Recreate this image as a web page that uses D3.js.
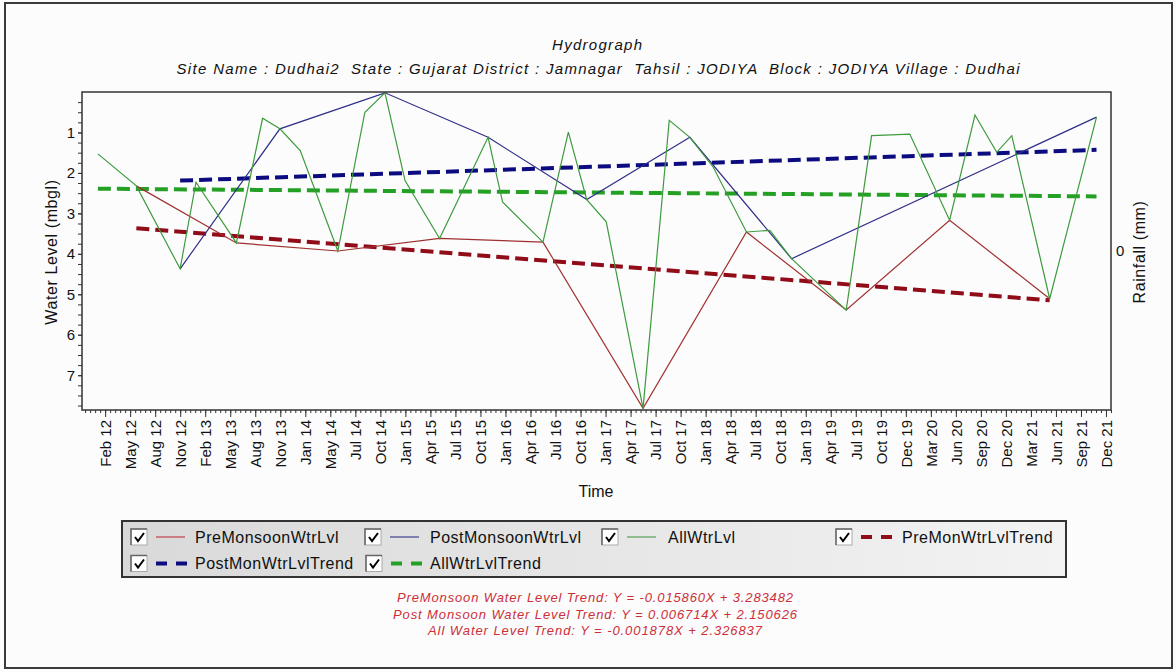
<!DOCTYPE html>
<html>
<head>
<meta charset="utf-8">
<script src="https://cdn.jsdelivr.net/npm/d3@7"></script>
<style>
  body { margin: 0; background: #fff; }
  svg { display: block; font-family: "Liberation Sans", Arial, sans-serif; }
  .pre { white-space: pre; }
</style>
</head>
<body>
<div id="chart"></div>
<script>
// ---- data ----
var tickLabels = ["Feb 12","May 12","Aug 12","Nov 12","Feb 13","May 13","Aug 13","Nov 13","Jan 14","May 14",
  "Jul 14","Oct 14","Jan 15","Apr 15","Jul 15","Oct 15","Jan 16","Apr 16","Jul 16","Oct 16",
  "Jan 17","Apr 17","Jul 17","Oct 17","Jan 18","Apr 18","Jul 18","Oct 18","Jan 19","Apr 19",
  "Jul 19","Oct 19","Dec 19","Mar 20","Jun 20","Sep 20","Dec 20","Mar 21","Jun 21","Sep 21","Dec 21"];

var allDates = ["2012-01-06","2012-05-23","2012-10-27","2012-12-23","2013-05-17","2013-08-19","2013-10-20",
  "2014-01-01","2014-05-16","2014-08-21","2014-11-01","2015-01-12","2015-05-16","2015-11-06","2015-12-28",
  "2016-05-21","2016-08-20","2016-10-25","2017-01-03","2017-05-15","2017-08-17","2017-10-30","2018-01-22",
  "2018-05-21","2018-08-13","2018-10-30","2019-05-14","2019-08-13","2019-10-23","2019-12-28","2020-05-19",
  "2020-08-18","2020-11-04","2020-12-28","2021-05-13","2021-10-28"];
var allLevels = [1.53,2.32,4.37,2.23,3.73,0.65,0.91,1.45,3.93,0.50,0.02,2.19,3.62,1.12,2.72,3.71,0.99,2.66,
  3.21,7.82,0.70,1.12,1.86,3.46,3.42,4.12,5.39,1.08,1.06,1.04,3.17,0.57,1.49,1.08,5.11,0.62];

var preDates = ["2012-05-23","2013-05-17","2014-05-16","2015-05-16","2016-05-21","2017-05-15","2018-05-21",
  "2019-05-14","2020-05-19","2021-05-13"];
var preLevels = [2.32,3.73,3.93,3.62,3.71,7.82,3.46,5.39,3.17,5.11];

var postDates = ["2012-10-27","2013-10-20","2014-11-01","2015-11-06","2016-10-25","2017-10-30","2018-10-30","2021-10-28"];
var postLevels = [4.37,0.91,0.02,1.12,2.66,1.12,4.12,0.62];

// trend lines: value at first and last date of each series
var preTrend = [3.37, 5.15];
var postTrend = [2.19, 1.43];
var allTrend = [2.39, 2.58];

var equations = [
  "PreMonsoon Water Level Trend: Y = -0.015860X + 3.283482",
  "Post Monsoon Water Level Trend: Y = 0.006714X + 2.150626",
  "All Water Level Trend: Y = -0.001878X + 2.326837"
];

function init() {
    var W = 1176, H = 672;
    var left = 82, right = 1111, top = 92, bottom = 410;
    var parse = d3.timeParse("%Y-%m-%d");

    var svg = d3.select("#chart").append("svg")
        .attr("width", W)
        .attr("height", H);

    svg.append("rect").attr("width", W).attr("height", H).attr("fill", "#fcfcfc");
    // outer frame
    svg.append("rect").attr("x", 5).attr("y", 3).attr("width", 1167).attr("height", 665)
        .attr("fill", "none").attr("stroke", "#3a3a3a").attr("stroke-width", 2);

    // titles
    svg.append("text").attr("x", 597).attr("y", 50).attr("text-anchor", "middle")
        .attr("font-size", 15).attr("font-style", "italic").attr("fill", "#111")
        .attr("textLength", 90).attr("lengthAdjust", "spacing")
        .text("Hydrograph");
    svg.append("text").attr("class", "pre").attr("x", 598).attr("y", 74).attr("text-anchor", "middle")
        .attr("font-size", 15).attr("font-style", "italic").attr("fill", "#111")
        .attr("textLength", 843).attr("lengthAdjust", "spacing")
        .text("Site Name : Dudhai2  State : Gujarat District : Jamnagar  Tahsil : JODIYA  Block : JODIYA Village : Dudhai");

    // scales
    var x = d3.scaleTime()
        .domain([parse("2011-11-10"), parse("2021-12-19")])
        .range([left, right]);
    var y = d3.scaleLinear().domain([0, 7.86]).range([top, bottom]);
    var yRain = d3.scaleLinear().domain([-1, 1]).range([bottom, top]);

    // x tick dates, evenly spaced between first and last label
    var t0 = parse("2012-02-01").getTime(), t1 = parse("2021-12-01").getTime();
    var step = (t1 - t0) / (tickLabels.length - 1);
    var tickDates = tickLabels.map(function(d, i) { return new Date(t0 + i * step); });
    var minorDates = [];
    for (var t = t0 - step; t < x.domain()[1].getTime(); t += step / 5) {
        if (t >= x.domain()[0].getTime()) minorDates.push(new Date(t));
    }

    // plot background
    svg.append("rect").attr("x", left).attr("y", top).attr("width", right - left).attr("height", bottom - top)
        .attr("fill", "#fcfcfc");

    // axes
    var gxMinor = svg.append("g").attr("transform", "translate(0," + bottom + ")")
        .call(d3.axisBottom(x).tickValues(minorDates).tickSize(3).tickFormat(""));
    var gx = svg.append("g").attr("transform", "translate(0," + bottom + ")")
        .call(d3.axisBottom(x).tickValues(tickDates).tickSize(7)
            .tickFormat(function(d, i) { return tickLabels[i]; }));
    gx.selectAll("text")
        .attr("font-size", 15).attr("font-family", "\"Liberation Sans\", Arial, sans-serif")
        .attr("fill", "#111")
        .attr("text-anchor", "end")
        .attr("transform", "rotate(-90)")
        .attr("x", -10).attr("y", 0).attr("dy", "0.35em");

    var gyMinor = svg.append("g").attr("transform", "translate(" + left + ",0)")
        .call(d3.axisLeft(y).tickValues(d3.range(0.25, 7.86, 0.25)).tickSize(4).tickFormat(""));
    var gy = svg.append("g").attr("transform", "translate(" + left + ",0)")
        .call(d3.axisLeft(y).tickValues(d3.range(1, 8)).tickSize(4).tickFormat(d3.format("d")));
    gy.selectAll("text").attr("font-size", 15).attr("fill", "#111")
        .attr("font-family", "\"Liberation Sans\", Arial, sans-serif").attr("x", -7);

    var gr = svg.append("g").attr("transform", "translate(" + right + ",0)")
        .call(d3.axisRight(yRain).tickValues([0]).tickSize(0).tickPadding(5).tickFormat(d3.format("d")));
    gr.selectAll("text").attr("font-size", 15).attr("fill", "#111")
        .attr("font-family", "\"Liberation Sans\", Arial, sans-serif");

    [gxMinor, gx, gyMinor, gy, gr].forEach(function(g) {
        g.select(".domain").remove();
        g.selectAll("line").attr("stroke", "#333");
    });

    // axis titles
    svg.append("text").attr("transform", "translate(57,252) rotate(-90)").attr("text-anchor", "middle")
        .attr("font-size", 16).attr("letter-spacing", 0.6).attr("fill", "#111").text("Water Level (mbgl)");
    svg.append("text").attr("transform", "translate(1145,252) rotate(-90)").attr("text-anchor", "middle")
        .attr("font-size", 16).attr("letter-spacing", 0.6).attr("fill", "#111").text("Rainfall (mm)");
    svg.append("text").attr("x", 596).attr("y", 497).attr("text-anchor", "middle")
        .attr("font-size", 16).attr("fill", "#111").text("Time");

    // series
    svg.append("clipPath").attr("id", "plotclip").append("rect")
        .attr("x", left).attr("y", top - 1).attr("width", right - left).attr("height", bottom - top + 2);
    var plot = svg.append("g").attr("clip-path", "url(#plotclip)");

    var line = d3.line().x(function(d) { return x(d[0]); }).y(function(d) { return y(d[1]); });
    function pairs(dates, vals) { return dates.map(function(d, i) { return [parse(d), vals[i]]; }); }
    function ends(dates, vals) { return [[parse(dates[0]), vals[0]], [parse(dates[dates.length - 1]), vals[1]]]; }

    var trends = [
        { data: ends(allDates, allTrend), color: "#24a024" },
        { data: ends(postDates, postTrend), color: "#0c0c80" },
        { data: ends(preDates, preTrend), color: "#900c18" }
    ];
    plot.selectAll(".trend").data(trends).enter().append("path")
        .attr("class", "trend")
        .attr("d", function(d) { return line(d.data); })
        .attr("fill", "none").attr("stroke", function(d) { return d.color; })
        .attr("stroke-width", 4).attr("stroke-dasharray", "13,6");

    var series = [
        { data: pairs(preDates, preLevels), color: "#a03030" },
        { data: pairs(postDates, postLevels), color: "#2e2e88" },
        { data: pairs(allDates, allLevels), color: "#3d9a3d" }
    ];
    plot.selectAll(".series").data(series).enter().append("path")
        .attr("class", "series")
        .attr("d", function(d) { return line(d.data); })
        .attr("fill", "none").attr("stroke", function(d) { return d.color; })
        .attr("stroke-width", 1.2);

    svg.append("rect").attr("x", left).attr("y", top).attr("width", right - left).attr("height", bottom - top)
        .attr("fill", "none").attr("stroke", "#333").attr("stroke-width", 1.5);

    // legend
    var grad = svg.append("defs").append("linearGradient").attr("id", "legbg")
        .attr("x1", "0").attr("x2", "1").attr("y1", "0").attr("y2", "0");
    grad.append("stop").attr("offset", "0").attr("stop-color", "#d9d9d9");
    grad.append("stop").attr("offset", "1").attr("stop-color", "#f3f3f3");
    svg.append("rect").attr("x", 122).attr("y", 521).attr("width", 944).attr("height", 56)
        .attr("fill", "url(#legbg)").attr("stroke", "#333").attr("stroke-width", 2);

    var legendItems = [
        { name: "PreMonsoonWtrLvl", color: "#c0404c", dashed: false, cx: 131, row: 0, tx: 195 },
        { name: "PostMonsoonWtrLvl", color: "#40408c", dashed: false, cx: 365, row: 0, tx: 430 },
        { name: "AllWtrLvl", color: "#58a058", dashed: false, cx: 602, row: 0, tx: 668 },
        { name: "PreMonWtrLvlTrend", color: "#900c18", dashed: true, cx: 836, row: 0, tx: 902 },
        { name: "PostMonWtrLvlTrend", color: "#0c0c80", dashed: true, cx: 131, row: 1, tx: 195 },
        { name: "AllWtrLvlTrend", color: "#24a024", dashed: true, cx: 366, row: 1, tx: 430 }
    ];
    var li = svg.selectAll(".leg").data(legendItems).enter().append("g")
        .attr("class", "leg")
        .attr("transform", function(d) { return "translate(0," + (537 + d.row * 26.5) + ")"; });
    li.append("rect").attr("x", function(d) { return d.cx; }).attr("y", -8).attr("width", 16).attr("height", 16)
        .attr("fill", "#fff").attr("stroke", "#aaa");
    li.append("path").attr("d", function(d) { return "M" + d.cx + ",8V-8H" + (d.cx + 16); })
        .attr("fill", "none").attr("stroke", "#666").attr("stroke-width", 1.5);
    li.append("path").attr("d", function(d) { return "M" + (d.cx + 4) + ",0l3,4l6,-8"; })
        .attr("fill", "none").attr("stroke", "#000").attr("stroke-width", 2);
    li.append("line")
        .attr("x1", function(d) { return d.cx + 25; })
        .attr("x2", function(d) { return d.cx + (d.dashed ? 56 : 54); })
        .attr("stroke", function(d) { return d.color; })
        .attr("stroke-width", function(d) { return d.dashed ? 4 : 1.2; })
        .attr("stroke-dasharray", function(d) { return d.dashed ? "11,9" : null; });
    li.append("text").attr("x", function(d) { return d.tx; }).attr("y", 5.5)
        .attr("font-size", 16).attr("letter-spacing", 0.5).attr("fill", "#111")
        .text(function(d) { return d.name; });

    // trend equations
    var eqLen = [396, 404, 334];
    svg.selectAll(".eq").data(equations).enter().append("text")
        .attr("class", "eq")
        .attr("x", 595).attr("y", function(d, i) { return 602 + i * 16.7; })
        .attr("text-anchor", "middle").attr("font-size", 13).attr("font-style", "italic")
        .attr("fill", "#cc2f3a")
        .attr("textLength", function(d, i) { return eqLen[i]; }).attr("lengthAdjust", "spacing")
        .text(function(d) { return d; });
}

window.onload = init;
</script>
</body>
</html>
